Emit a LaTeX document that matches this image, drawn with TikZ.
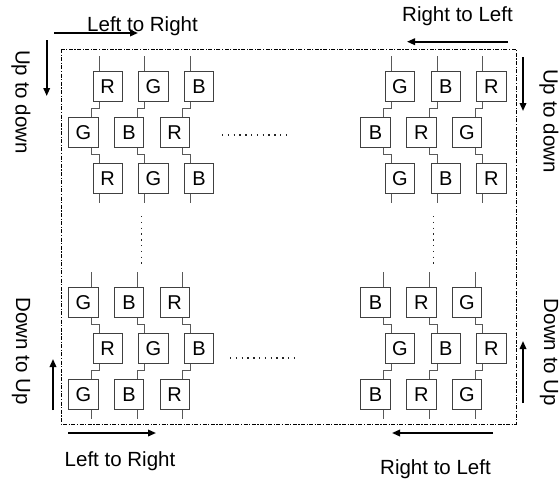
\documentclass[tikz,border=0pt]{standalone}
\usepackage{fontspec}
\setmainfont{Liberation Sans}
\usetikzlibrary{arrows.meta}
\tikzset{
  cellbox/.style={draw=black!75, line width=0.9pt, minimum width=29.5pt, minimum height=30pt, inner sep=0pt, font=\fontsize{20}{22}\selectfont},
  wire/.style={draw=black!65, line width=0.9pt},
  flow/.style={line width=1.8pt, -{Triangle[length=8pt,width=6.5pt]}},
  lbl/.style={font=\fontsize{20.5}{22}\selectfont, inner sep=0pt},
  frame/.style={line width=0.8pt, dash pattern=on 4pt off 1.5pt on 1.2pt off 1.5pt},
  dots/.style={line width=1.4pt, dash pattern=on 1.4pt off 4.4pt, draw=black!85}
}
\newcommand\rgbblock[7]{%
  \pgfmathsetmacro\oa{ifthenelse(#4==1,-8.5,8)}%
  \pgfmathsetmacro\ob{ifthenelse(#4==1,8,-8.5)}%
  \foreach \r/\row in {1/{#5},2/{#6},3/{#7}} {
    \pgfmathsetmacro\sh{ifthenelse(mod(\r+#4,2)==0,0,-24.4)}
    \foreach \L [count=\ci] in \row {
      \pgfmathsetmacro\cx{#2+15+(\ci-1)*45.7+\sh}
      \pgfmathsetmacro\cy{#3+(\r-1)*46}
      \node[cellbox] (#1-\r-\ci) at (\cx,\cy) {\L};
    }
  }
  \foreach \ci in {1,2,3}{
    \draw[wire] ([xshift=\oa pt]#1-1-\ci.north) -- ++(0,-15.5);
    \draw[wire] ([xshift=\oa pt]#1-1-\ci.south) -- ++(0,6.5) -| ([xshift=\ob pt]#1-2-\ci.north);
    \draw[wire] ([xshift=\ob pt]#1-2-\ci.south) -- ++(0,6.5) -| ([xshift=\oa pt]#1-3-\ci.north);
    \draw[wire] ([xshift=\oa pt]#1-3-\ci.south) -- ++(0,9);
  }
}
\begin{document}
\begin{tikzpicture}[x=1pt,y=-1pt]
\useasboundingbox[fill=white] (0,0) rectangle (559,479);
% frame
\draw[frame] (61,49) rectangle (516,424);
% blocks
\rgbblock{tl}{92.7}{86.7}{1}{R,G,B}{G,B,R}{R,G,B}
\rgbblock{tr}{385}{86.7}{1}{G,B,R}{B,R,G}{G,B,R}
\rgbblock{bl}{92.7}{302.5}{0}{G,B,R}{R,G,B}{G,B,R}
\rgbblock{br}{385}{302.5}{0}{B,R,G}{G,B,R}{B,R,G}
% dots
\coordinate (dh1a) at (222,135); \coordinate (dh1b) at (290,135);
\coordinate (dh2a) at (230,358); \coordinate (dh2b) at (297,358);
\coordinate (dv1a) at (141.5,216); \coordinate (dv1b) at (141.5,265);
\coordinate (dv2a) at (433.3,216); \coordinate (dv2b) at (433.3,265);
\draw[dots] (dh1a) -- (dh1b);
\draw[dots] (dh2a) -- (dh2b);
\draw[dots] (dv1a) -- (dv1b);
\draw[dots] (dv2a) -- (dv2b);
% labels
\node[lbl, anchor=base] (l1) at (142.5,31) {Left to Right};
\node[lbl, anchor=base] (l2) at (457.5,21.7) {Right to Left};
\node[lbl, anchor=base] (l3) at (120,466) {Left to Right};
\node[lbl, anchor=base] (l4) at (435.5,474) {Right to Left};
\node[lbl, rotate=-90] (l5) at (21,102) {Up to down};
\node[lbl, rotate=-90] (l6) at (549,121) {Up to down};
\node[lbl, rotate=-90] (l7) at (21,351) {Down to Up};
\node[lbl, rotate=-90] (l8) at (549,352.5) {Down to Up};
% arrows
\coordinate (a1s) at (54,33);   \coordinate (a1e) at (138,33);
\coordinate (a2s) at (508,41.7); \coordinate (a2e) at (407,41.7);
\coordinate (a3s) at (68,433);  \coordinate (a3e) at (156,433);
\coordinate (a4s) at (493,433); \coordinate (a4e) at (392,433);
\coordinate (a5s) at (46.7,40); \coordinate (a5e) at (46.7,96);
\coordinate (a6s) at (523,57);  \coordinate (a6e) at (523,111);
\coordinate (a7s) at (53,410);  \coordinate (a7e) at (53,359);
\coordinate (a8s) at (523,403); \coordinate (a8e) at (523,341);
\draw[flow] (a1s) -- (a1e);
\draw[flow] (a2s) -- (a2e);
\draw[flow] (a3s) -- (a3e);
\draw[flow] (a4s) -- (a4e);
\draw[flow] (a5s) -- (a5e);
\draw[flow] (a6s) -- (a6e);
\draw[flow] (a7s) -- (a7e);
\draw[flow] (a8s) -- (a8e);
\end{tikzpicture}
\end{document}
